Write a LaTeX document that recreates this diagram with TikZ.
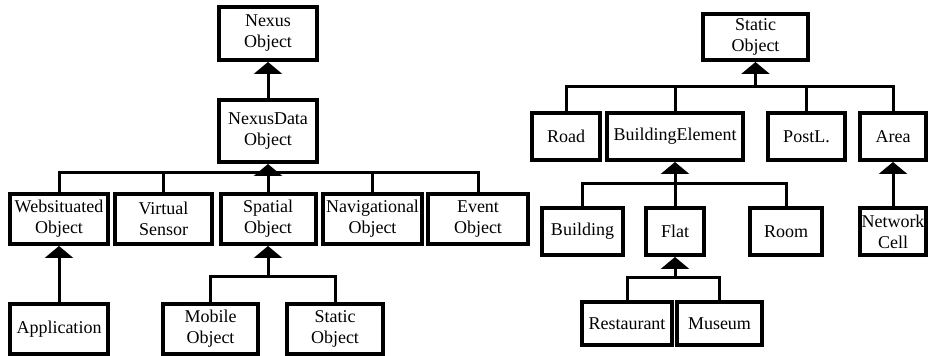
\documentclass[tikz,border=0pt]{standalone}
\usepackage{fontspec}
\setmainfont{Liberation Serif}
\usetikzlibrary{arrows.meta}

\begin{document}
\begin{tikzpicture}[x=0.5pt, y=-0.5pt, >={Triangle[width=14pt,length=6pt]},
  cls/.style 2 args={draw, line width=2pt, inner sep=0pt, align=center,
    minimum width=#1*0.5pt, minimum height=#2*0.5pt,
    font=\fontsize{9}{10.5}\selectfont},
  link/.style={line width=1.5pt}]
\useasboundingbox (0,0) rectangle (928,356);

%%%%%%%%%%%% Nexus hierarchy
  \node[cls={98}{53}]  (nexus)   at (268,33.5)  {Nexus\\Object};
  \node[cls={98}{62}]  (ndata)   at (268,131)   {NexusData\\Object};
  \node[cls={98}{50}]  (websit)  at (59,219)    {Websituated\\Object};
  \node[cls={97}{50}]  (vsensor) at (163.5,219) {Virtual\\Sensor};
  \node[cls={95}{50}]  (spatial) at (268,219)   {Spatial\\Object};
  \node[cls={99}{50}]  (navig)   at (372.5,219) {Navigational\\Object};
  \node[cls={100}{50}] (event)   at (478,219)   {Event\\Object};
  \node[cls={98}{50}]  (app)     at (59,329)    {Application};
  \node[cls={95}{50}]  (mobile)  at (210.5,329) {Mobile\\Object};
  \node[cls={96}{50}]  (statl)   at (335,329)   {Static\\Object};

  \draw[link,->] (ndata) -- (nexus);
  \coordinate (jdata) at (268,173);
  \draw[link,->] (jdata) -- (ndata);
  \foreach \n in {websit,vsensor,spatial,navig,event}
    \draw[link] (\n) |- (jdata);
  \draw[link,->] (app) -- (websit);
  \coordinate (jspat) at (268,277);
  \draw[link,->] (jspat) -- (spatial);
  \foreach \n in {mobile,statl}
    \draw[link] (\n) |- (jspat);

%%%%%%%%%%%% Static object hierarchy
  \node[cls={105}{46}] (sobj)   at (755.5,37)   {Static\\Object};
  \node[cls={68}{47}]  (road)   at (566,136.5)  {Road};
  \node[cls={136}{47}] (belem)  at (675,136.5)  {BuildingElement};
  \node[cls={77}{47}]  (postl)  at (806.5,136.5) {PostL.};
  \node[cls={66}{47}]  (area)   at (893,136.5)  {Area};
  \node[cls={81}{47}]  (bldg)   at (582.5,231.5) {Building};
  \node[cls={58}{47}]  (flat)   at (675,231.5)  {Flat};
  \node[cls={72}{47}]  (room)   at (786,231.5)  {Room};
  \node[cls={66}{47}]  (ncell)  at (893,231.5)  {Network\\Cell};
  \node[cls={90}{43}]  (rest)   at (627,323.5)  {Restaurant};
  \node[cls={85}{43}]  (museum) at (719.5,323.5) {Museum};

  \coordinate (jsobj) at (755.5,87);
  \draw[link,->] (jsobj) -- (sobj);
  \foreach \n in {road,belem,postl,area}
    \draw[link] (\n) |- (jsobj);
  \coordinate (jbelem) at (675,184);
  \draw[link,->] (jbelem) -- (belem);
  \foreach \n in {bldg,flat,room}
    \draw[link] (\n) |- (jbelem);
  \draw[link,->] (ncell) -- (area);
  \coordinate (jflat) at (675,278);
  \draw[link,->] (jflat) -- (flat);
  \foreach \n in {rest,museum}
    \draw[link] (\n) |- (jflat);
\end{tikzpicture}
\end{document}
